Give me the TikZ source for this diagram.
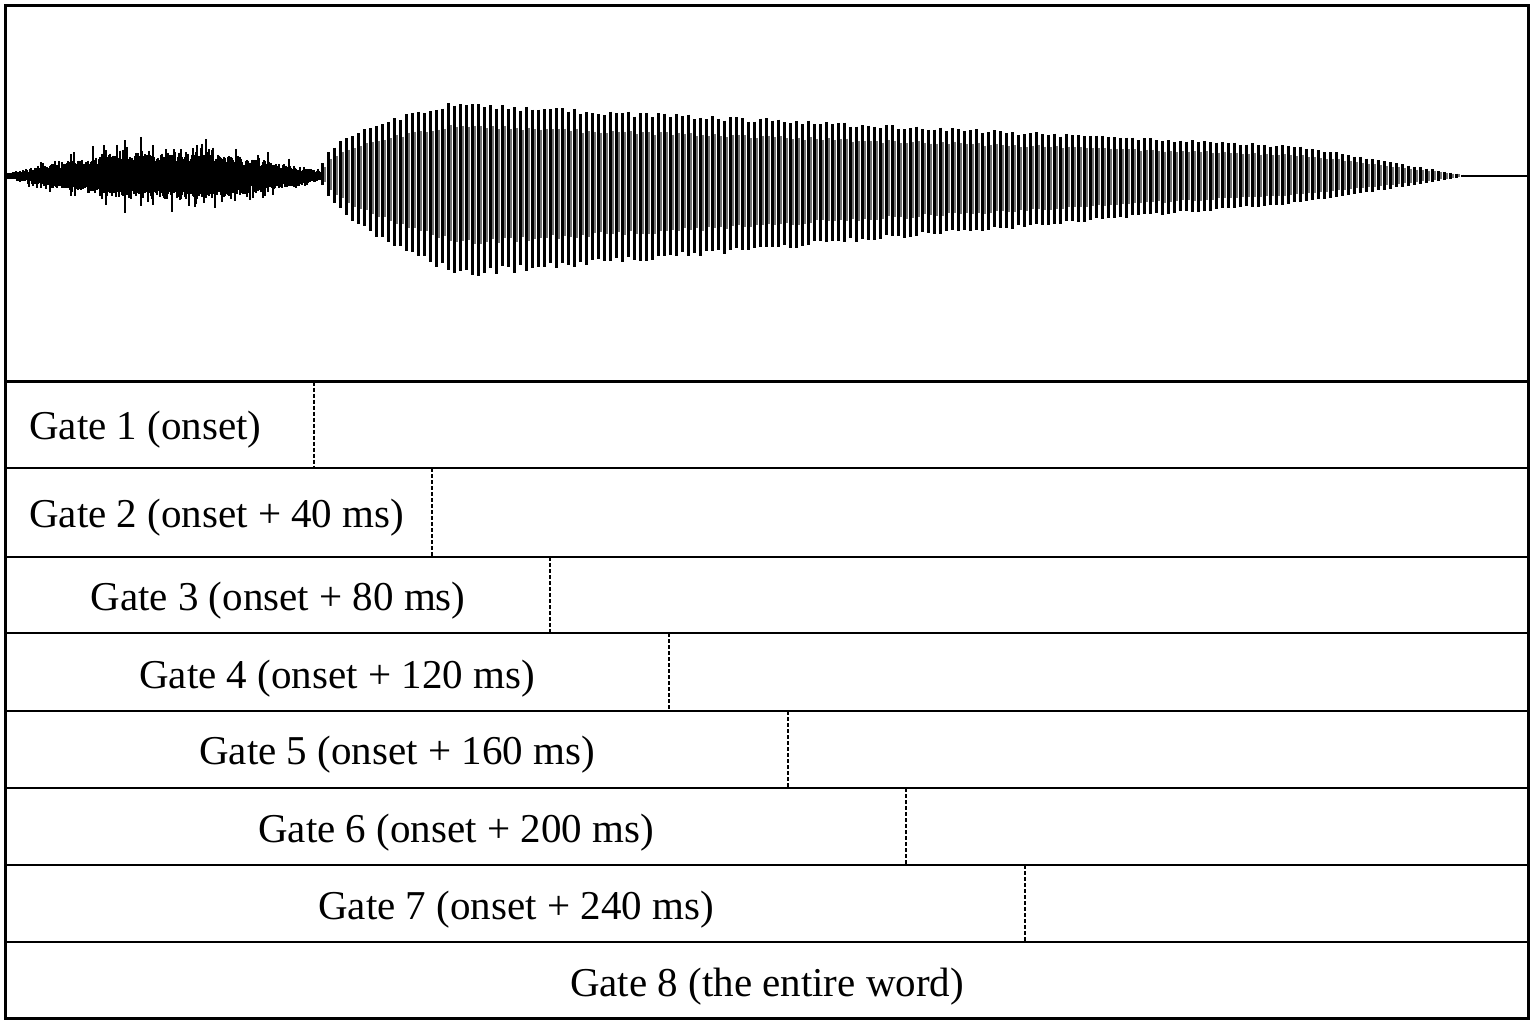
\documentclass[tikz,border=0pt]{standalone}
\usepackage{fontspec}
\setmainfont{Liberation Serif}

\begin{document}
\begin{tikzpicture}[x=1pt,y=-1pt,
    frame/.style={line width=3pt},
    rowline/.style={line width=2.2pt},
    cut/.style={line width=2.2pt,dash pattern=on 4pt off 2pt},
    gatelabel/.style={font=\fontsize{41}{48}\selectfont,inner sep=0pt}]
  \useasboundingbox (0,0) rectangle (1536,1026);
  \pgfmathsetseed{11}
  %% fricative noise
  \foreach \x in {8,9,...,320} {
    \pgfmathsetmacro{\bump}{sin(0.5625*(\x-8))}
    \pgfmathsetmacro{\env}{3+19*\bump}
    \pgfmathsetmacro{\up}{\env*(0.6+0.5*rnd)+20*\bump*rnd*(rnd>0.8)}
    \pgfmathsetmacro{\dn}{\env*(0.6+0.5*rnd)+18*\bump*rnd*(rnd>0.8)}
    \draw[line width=1.8pt] (\x,176-\up) -- (\x,176+\dn);
  }
  %% voiced part
  \foreach \x in {322,328,...,1466} {
    \pgfmathsetmacro{\up}{(\x<450 ? 74*((\x-320)/130)^0.4 : (\x<1300 ? 74-0.0515*(\x-450) : (1470-\x)/170*30))*(0.92+0.08*rnd)}
    \pgfmathsetmacro{\dn}{(\x<460 ? 107*((\x-320)/140)^0.55 : (\x<1300 ? 107-0.093*(\x-460) : (1470-\x)/170*29))*(0.92+0.08*rnd)}
    \draw[line width=2.2pt,black!55] (\x+3,176-0.7*\up) -- (\x+3,176+0.65*\dn);
    \draw[line width=3pt] (\x,176-\up) -- (\x,176+0.95*\dn);
  }
  \draw[line width=1.6pt] (1464,176) -- (1528,176);
  \draw[line width=1.6pt] (5,176) -- (9,176);
  %% frame and gate rows
  \draw[frame] (5,5) rectangle (1528.5,1018.5);
  \draw[frame] (5,381.5) -- (1528.5,381.5);
  \foreach \Y in {468,557,633,711,788,865,942}
    \draw[rowline] (5,\Y) -- (1528.5,\Y);
  \foreach \Cut/\Top/\Bot in {314/381.5/468, 432/468/557, 550/557/633, 669/633/711, 788/711/788, 906/788/865, 1025/865/942}
    \draw[cut] (\Cut,\Top) -- (\Cut,\Bot);
  \node[gatelabel,anchor=west] (gate1) at (29,430) {Gate 1 (onset)};
  \node[gatelabel,anchor=west] (gate2) at (29,518) {Gate 2 (onset + 40 ms)};
  \node[gatelabel] (gate3) at (278,601) {Gate 3 (onset + 80 ms)};
  \node[gatelabel] (gate4) at (337,679) {Gate 4 (onset + 120 ms)};
  \node[gatelabel] (gate5) at (397,755) {Gate 5 (onset + 160 ms)};
  \node[gatelabel] (gate6) at (456,833) {Gate 6 (onset + 200 ms)};
  \node[gatelabel] (gate7) at (516,910) {Gate 7 (onset + 240 ms)};
  \node[gatelabel] (gate8) at (767,987) {Gate 8 (the entire word)};
\end{tikzpicture}
\end{document}
